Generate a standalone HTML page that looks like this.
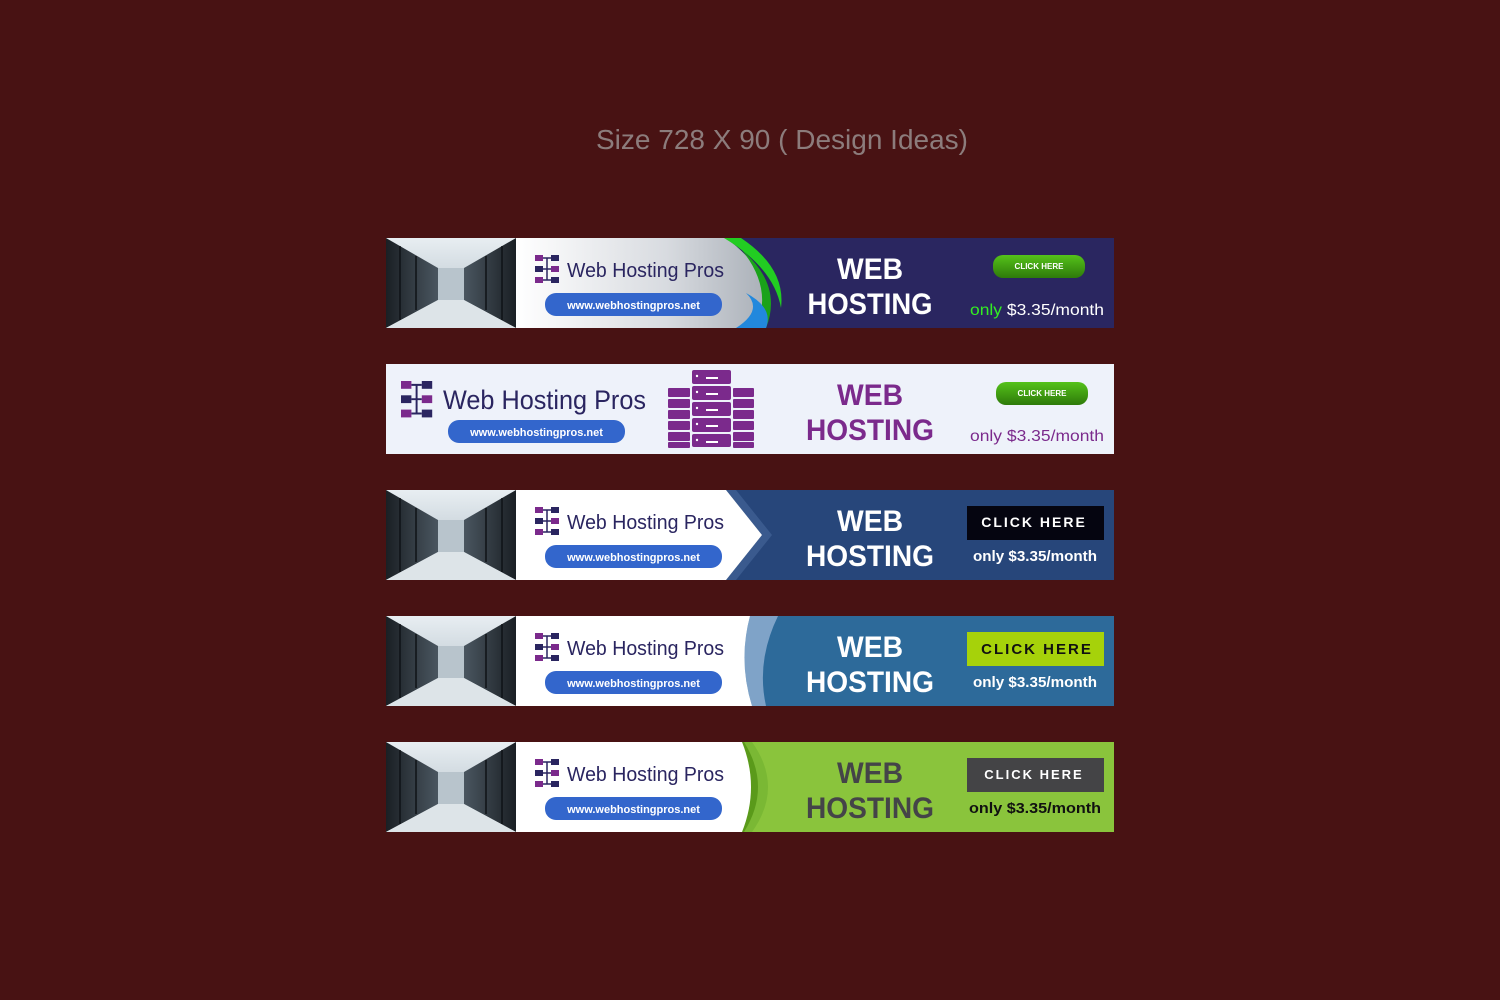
<!DOCTYPE html>
<html><head><meta charset="utf-8"><style>
html,body{margin:0;padding:0;background:#481213;}
svg{display:block}
text{font-family:"Liberation Sans",sans-serif}
</style></head><body>
<svg width="1500" height="1000" viewBox="0 0 1500 1000" xmlns="http://www.w3.org/2000/svg">
<defs>
<linearGradient id="floor" x1="0" y1="0" x2="0" y2="1">
<stop offset="0" stop-color="#e8eef2"/><stop offset="0.5" stop-color="#c9d3da"/><stop offset="1" stop-color="#eef2f4"/></linearGradient>
<linearGradient id="rackL" x1="0" y1="0" x2="1" y2="0">
<stop offset="0" stop-color="#1a1f24"/><stop offset="1" stop-color="#4a5660"/></linearGradient>
<linearGradient id="rackR" x1="1" y1="0" x2="0" y2="0">
<stop offset="0" stop-color="#1a1f24"/><stop offset="1" stop-color="#4a5660"/></linearGradient>
<g id="photo">
<rect width="130" height="90" fill="url(#floor)"/>
<polygon points="0,0 52,30 52,62 0,90" fill="url(#rackL)"/>
<polygon points="130,0 78,30 78,62 130,90" fill="url(#rackR)"/>
<rect x="52" y="30" width="26" height="32" fill="#b8c4cc"/>
<polygon points="0,90 52,62 78,62 130,90" fill="#dde4e8"/>
<g stroke="#0e1216" stroke-width="1.5"><line x1="14" y1="8" x2="14" y2="82"/><line x1="30" y1="18" x2="30" y2="72"/><line x1="116" y1="8" x2="116" y2="82"/><line x1="100" y1="18" x2="100" y2="72"/></g>
</g>
<g id="icon">
<g stroke="#2a2560" stroke-width="1.5" fill="none"><path d="M8,3 H16 M8,25 H16 M8,14 H16 M12,3 V25"/></g>
<rect x="0" y="0" width="8" height="6" fill="#7b2a8c"/>
<rect x="0" y="11" width="8" height="6" fill="#2a2560"/>
<rect x="0" y="22" width="8" height="6" fill="#7b2a8c"/>
<rect x="16" y="0" width="8" height="6" fill="#2a2560"/>
<rect x="16" y="11" width="8" height="6" fill="#7b2a8c"/>
<rect x="16" y="22" width="8" height="6" fill="#2a2560"/>
</g>
<g id="brand">
<use href="#icon" x="149" y="17"/>
<text x="181" y="39" font-size="20" fill="#2a2560" textLength="157" lengthAdjust="spacingAndGlyphs">Web Hosting Pros</text>
<rect x="159" y="55" width="177" height="23" rx="11" fill="#3366cc"/>
<text x="247.5" y="71" font-size="11" fill="#fff" text-anchor="middle" font-weight="bold">www.webhostingpros.net</text>
</g>
<linearGradient id="gbtn" x1="0" y1="0" x2="0" y2="1"><stop offset="0" stop-color="#55c21a"/><stop offset="1" stop-color="#2e7a0a"/></linearGradient>
<linearGradient id="sil" x1="0" y1="0" x2="1" y2="0"><stop offset="0" stop-color="#ffffff"/><stop offset="0.6" stop-color="#d8dbe0"/><stop offset="1" stop-color="#aab0b8"/></linearGradient>
</defs>

<text x="782" y="149" font-size="28" fill="#8c7c7c" text-anchor="middle">Size 728 X 90 ( Design Ideas)</text>

<!-- Banner 1 -->
<g transform="translate(386,238)">
<rect width="728" height="90" fill="#2a2660"/>
<path d="M130,0 H340 Q400,45 370,90 H130Z" fill="url(#sil)"/>
<path d="M340,0 Q400,40 380,90 H370 Q390,45 345,0Z" fill="#1aa21a"/>
<path d="M338,0 H355 Q400,30 395,70 Q388,30 338,0Z" fill="#22cc22"/>
<path d="M360,55 Q388,70 380,90 H350 Q378,72 360,55Z" fill="#2288dd"/>
<use href="#brand"/>
<use href="#photo"/>
<text x="484" y="41" font-size="30" font-weight="bold" fill="#fff" text-anchor="middle" textLength="66" lengthAdjust="spacingAndGlyphs">WEB</text>
<text x="484" y="76" font-size="30" font-weight="bold" fill="#fff" text-anchor="middle" textLength="125" lengthAdjust="spacingAndGlyphs">HOSTING</text>
<rect x="607" y="17" width="92" height="23" rx="10" fill="url(#gbtn)"/>
<text x="653" y="31" font-size="8" font-weight="bold" fill="#fff" text-anchor="middle">CLICK HERE</text>
<text x="584" y="77" font-size="16" fill="#fff" textLength="134" lengthAdjust="spacingAndGlyphs"><tspan fill="#33ee22">only</tspan> $3.35/month</text>
</g>

<!-- Banner 2 -->
<g transform="translate(386,364)">
<rect width="728" height="90" fill="#eef2fa"/>
<use href="#icon" transform="translate(15,17) scale(1.3)"/>
<text x="57" y="45" font-size="27" fill="#2a2560" textLength="203" lengthAdjust="spacingAndGlyphs">Web Hosting Pros</text>
<rect x="62" y="56" width="177" height="23" rx="11" fill="#3366cc"/>
<text x="150.5" y="72" font-size="11" fill="#fff" text-anchor="middle" font-weight="bold">www.webhostingpros.net</text>
<g fill="#7b2a8c">
<rect x="306" y="6" width="39" height="14" rx="2"/>
<rect x="306" y="22" width="39" height="14" rx="2"/><rect x="306" y="38" width="39" height="14" rx="2"/><rect x="306" y="54" width="39" height="14" rx="2"/><rect x="306" y="70" width="39" height="13" rx="2"/>
<rect x="282" y="24" width="22" height="9" rx="1"/><rect x="282" y="35" width="22" height="9" rx="1"/><rect x="282" y="46" width="22" height="9" rx="1"/><rect x="282" y="57" width="22" height="9" rx="1"/><rect x="282" y="68" width="22" height="9" rx="1"/><rect x="282" y="78" width="22" height="6" rx="1"/>
<rect x="347" y="24" width="21" height="9" rx="1"/><rect x="347" y="35" width="21" height="9" rx="1"/><rect x="347" y="46" width="21" height="9" rx="1"/><rect x="347" y="57" width="21" height="9" rx="1"/><rect x="347" y="68" width="21" height="9" rx="1"/><rect x="347" y="78" width="21" height="6" rx="1"/>
</g>
<g fill="#fff"><circle cx="311" cy="12" r="1.2"/><circle cx="311" cy="28" r="1.2"/><circle cx="311" cy="44" r="1.2"/><circle cx="311" cy="60" r="1.2"/><circle cx="311" cy="76" r="1.2"/>
<rect x="320" y="13" width="12" height="2"/><rect x="320" y="29" width="12" height="2"/><rect x="320" y="45" width="12" height="2"/><rect x="320" y="61" width="12" height="2"/><rect x="320" y="77" width="12" height="2"/></g>
<text x="484" y="41" font-size="30" font-weight="bold" fill="#7b2a8c" text-anchor="middle" textLength="66" lengthAdjust="spacingAndGlyphs">WEB</text>
<text x="484" y="76" font-size="30" font-weight="bold" fill="#7b2a8c" text-anchor="middle" textLength="128" lengthAdjust="spacingAndGlyphs">HOSTING</text>
<rect x="610" y="18" width="92" height="23" rx="10" fill="url(#gbtn)"/>
<text x="656" y="32" font-size="8" font-weight="bold" fill="#fff" text-anchor="middle">CLICK HERE</text>
<text x="584" y="77" font-size="16" fill="#7b2a8c" textLength="134" lengthAdjust="spacingAndGlyphs">only $3.35/month</text>
</g>

<!-- Banner 3 -->
<g transform="translate(386,490)">
<rect width="728" height="90" fill="#27467a"/>
<polygon points="350,0 386,45 350,90 340,90 376,45 340,0" fill="#3a5a8e"/>
<polygon points="340,0 376,45 340,90 130,90 130,0" fill="#fff"/>
<use href="#brand"/>
<use href="#photo"/>
<text x="484" y="41" font-size="30" font-weight="bold" fill="#fff" text-anchor="middle" textLength="66" lengthAdjust="spacingAndGlyphs">WEB</text>
<text x="484" y="76" font-size="30" font-weight="bold" fill="#fff" text-anchor="middle" textLength="128" lengthAdjust="spacingAndGlyphs">HOSTING</text>
<rect x="581" y="16" width="137" height="34" fill="#050510"/>
<text x="648" y="37" font-size="14" font-weight="bold" fill="#fff" text-anchor="middle" letter-spacing="2">CLICK HERE</text>
<text x="649" y="71" font-size="15" font-weight="bold" fill="#fff" text-anchor="middle" textLength="124" lengthAdjust="spacingAndGlyphs">only $3.35/month</text>
</g>

<!-- Banner 4 -->
<g transform="translate(386,616)">
<rect width="728" height="90" fill="#2d6a9a"/>
<path d="M364,0 H392 Q370,45 380,90 H366 Q352,45 364,0Z" fill="#7fa3c8"/>
<path d="M364,0 Q352,45 366,90 H130 V0Z" fill="#fff"/>
<use href="#brand"/>
<use href="#photo"/>
<text x="484" y="41" font-size="30" font-weight="bold" fill="#fff" text-anchor="middle" textLength="66" lengthAdjust="spacingAndGlyphs">WEB</text>
<text x="484" y="76" font-size="30" font-weight="bold" fill="#fff" text-anchor="middle" textLength="128" lengthAdjust="spacingAndGlyphs">HOSTING</text>
<rect x="581" y="16" width="137" height="34" fill="#a6d20a"/>
<text x="651" y="38" font-size="15" font-weight="bold" fill="#111" text-anchor="middle" letter-spacing="2">CLICK HERE</text>
<text x="649" y="71" font-size="15" font-weight="bold" fill="#fff" text-anchor="middle" textLength="124" lengthAdjust="spacingAndGlyphs">only $3.35/month</text>
</g>

<!-- Banner 5 -->
<g transform="translate(386,742)">
<rect width="728" height="90" fill="#8ac43c"/>
<path d="M366,0 Q398,45 366,90 H130 V0Z" fill="#7ab834"/>
<path d="M358,0 Q386,45 358,90 H130 V0Z" fill="#5a9a1a"/>
<path d="M356,0 Q374,45 356,90 H130 V0Z" fill="#fff"/>
<use href="#brand"/>
<use href="#photo"/>
<text x="484" y="41" font-size="30" font-weight="bold" fill="#444448" text-anchor="middle" textLength="66" lengthAdjust="spacingAndGlyphs">WEB</text>
<text x="484" y="76" font-size="30" font-weight="bold" fill="#444448" text-anchor="middle" textLength="128" lengthAdjust="spacingAndGlyphs">HOSTING</text>
<rect x="581" y="16" width="137" height="34" fill="#444446"/>
<text x="648" y="37" font-size="13" font-weight="bold" fill="#fff" text-anchor="middle" letter-spacing="2">CLICK HERE</text>
<text x="649" y="71" font-size="15" font-weight="bold" fill="#111" text-anchor="middle" textLength="132" lengthAdjust="spacingAndGlyphs">only $3.35/month</text>
</g>
</svg>
</body></html>
